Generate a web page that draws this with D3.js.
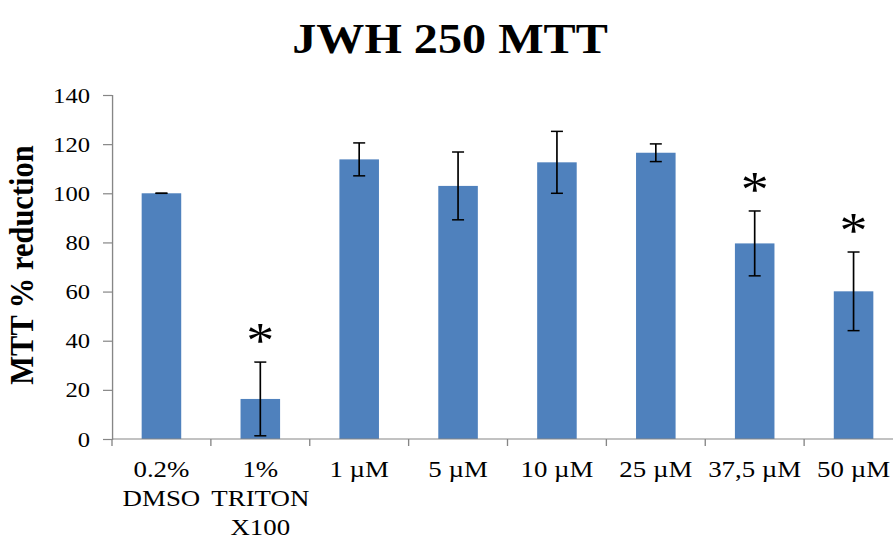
<!DOCTYPE html>
<html>
<head>
<meta charset="utf-8">
<script src="https://cdn.jsdelivr.net/npm/d3@7"></script>
<style>
  body { margin: 0; background: #fff; }
  text { font-family: "Liberation Serif", "Times New Roman", serif; fill: #000; }
</style>
</head>
<body>
<div id="chart"></div>
<script>
const categories = ['0.2%\nDMSO', '1%\nTRITON\nX100', '1 µM', '5 µM', '10 µM', '25 µM', '37,5 µM', '50 µM'];
const means = [100, 16.3, 113.8, 103, 112.6, 116.5, 79.6, 60.1];
const errors = [0, 15, 6.7, 13.8, 12.6, 3.6, 13.2, 16];
const significant = [false, true, false, false, false, false, true, true];
const yTicks = [0, 20, 40, 60, 80, 100, 120, 140];

const width = 893, height = 540;
// the original picture is a bit stretched sideways, so draw in narrower units and scale
const sx = 1.12;

const svg = d3.select('#chart')
  .append('svg')
  .attr('width', width)
  .attr('height', height);

const g = svg.append('g').attr('transform', `scale(${sx},1)`);

const x = d3.scaleBand()
  .domain(categories)
  .range([112 / sx, 903 / sx])
  .paddingInner(0.6)
  .paddingOuter(0.3);

const y = d3.scaleLinear()
  .domain([0, 140])
  .range([439, 95]);

// title
g.append('text')
  .attr('x', 450 / sx)
  .attr('y', 53)
  .attr('text-anchor', 'middle')
  .style('font-size', '43px')
  .style('font-weight', 'bold')
  .text('JWH 250 MTT');

// y axis title
g.append('text')
  .attr('transform', `translate(${33 / sx},265) rotate(-90)`)
  .attr('text-anchor', 'middle')
  .style('font-size', '30.5px')
  .style('font-weight', 'bold')
  .text('MTT % reduction');

// y axis
const yAxis = g.append('g')
  .attr('transform', `translate(${x.range()[0]},0)`)
  .call(d3.axisLeft(y).tickValues(yTicks).tickSize(9 / sx).tickPadding(13 / sx));
yAxis.select('.domain').attr('stroke', '#868686').attr('stroke-width', 1.2);
yAxis.selectAll('.tick line').attr('stroke', '#868686').attr('stroke-width', 1.2);
yAxis.selectAll('.tick text')
  .style('font-size', '22px')
  .style('font-family', '"Liberation Serif", serif')
  .attr('fill', '#000');

// bars
g.selectAll('.bar')
  .data(categories)
  .enter()
  .append('rect')
  .attr('x', d => x(d))
  .attr('width', x.bandwidth())
  .attr('y', (d, i) => y(means[i]))
  .attr('height', (d, i) => y(0) - y(means[i]))
  .attr('fill', '#4F81BD');

// x axis line and ticks at category boundaries
const x0 = x.range()[0];
g.append('line')
  .attr('x1', x0).attr('x2', x.range()[1])
  .attr('y1', y(0)).attr('y2', y(0))
  .attr('stroke', '#868686').attr('stroke-width', 1.2);
g.selectAll('.xtick')
  .data(d3.range(categories.length + 1))
  .enter()
  .append('line')
  .attr('x1', i => x0 + i * x.step())
  .attr('x2', i => x0 + i * x.step())
  .attr('y1', y(0)).attr('y2', y(0) + 7)
  .attr('stroke', '#868686').attr('stroke-width', 1.2);

// error bars
const cap = 6 / sx;
const eb = g.selectAll('.err')
  .data(categories)
  .enter()
  .append('g')
  .attr('stroke', '#000')
  .attr('stroke-width', 1.5);
eb.append('line')
  .attr('x1', d => x(d) + x.bandwidth() / 2)
  .attr('x2', d => x(d) + x.bandwidth() / 2)
  .attr('y1', (d, i) => y(means[i] + errors[i]))
  .attr('y2', (d, i) => y(means[i] - errors[i]));
eb.append('line')
  .attr('x1', d => x(d) + x.bandwidth() / 2 - cap)
  .attr('x2', d => x(d) + x.bandwidth() / 2 + cap)
  .attr('y1', (d, i) => y(means[i] + errors[i]))
  .attr('y2', (d, i) => y(means[i] + errors[i]));
eb.append('line')
  .attr('x1', d => x(d) + x.bandwidth() / 2 - cap)
  .attr('x2', d => x(d) + x.bandwidth() / 2 + cap)
  .attr('y1', (d, i) => y(means[i] - errors[i]))
  .attr('y2', (d, i) => y(means[i] - errors[i]));

// significance asterisks
g.selectAll('.star')
  .data(categories.filter((d, i) => significant[i]))
  .enter()
  .append('text')
  .attr('x', d => x(d) + x.bandwidth() / 2)
  .attr('y', d => {
    const i = categories.indexOf(d);
    return y(means[i] + errors[i]) - 5;
  })
  .attr('text-anchor', 'middle')
  .style('font-size', '50px')
  .text('*');

// category labels
const lab = g.selectAll('.xlab')
  .data(categories)
  .enter()
  .append('text')
  .attr('text-anchor', 'middle')
  .style('font-size', '24px')
  .attr('transform', d => `translate(${x(d) + x.bandwidth() / 2},477)`);
lab.selectAll('tspan')
  .data(d => d.split('\n'))
  .enter()
  .append('tspan')
  .attr('x', 0)
  .attr('y', (d, i) => i * 29)
  .text(d => d);
</script>
</body>
</html>
